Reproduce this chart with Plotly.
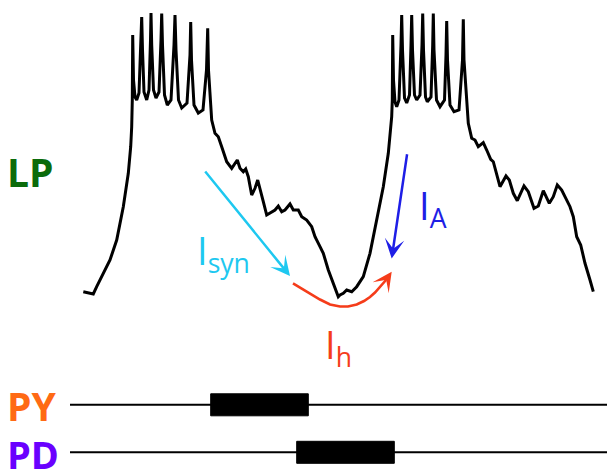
import plotly.graph_objects as go

# ---------------- data (time in a.u., voltage in a.u.; larger value = lower) -------------
LP_time = [
    83.3, 88, 93.3, 96.7, 103.3, 110, 116.7, 123.3, 128.3, 130.7, 131.7,
    132.3, 132.7, 133.5, 135, 136.7, 139, 141, 141.7, 142.5, 144, 146.7, 149, 150.5, 151, 151.7,
    153.5, 156, 159, 161, 161.7, 162.5, 164.5, 167.3, 171, 174, 175, 176, 178.5, 181.7, 187,
    190, 190.7, 191.5, 194, 198.3, 203, 206.5, 207.7, 208.5, 210,
    211.7, 215, 218.3, 221.7, 226.7, 231.7, 235, 237.3, 240, 243.3, 245.7, 248.3, 251.7, 255,
    257.7, 260, 263.3, 266.7, 271.7, 275, 278.3, 281.7, 285, 290, 293.3, 298.3, 301.7, 306.7,
    311.7, 315, 320, 323.3, 328.3, 333.3, 338.3, 340, 343.3, 346.7, 351.7, 356.7, 363.3, 370,
    376.7, 383.3, 388.3, 391.7,
    392.3, 392.7, 393.5, 395, 396.7, 399, 401, 401.7, 402.5, 404.5, 406.7, 409.5, 411, 411.7,
    412.5, 414.5, 416.7, 420, 422, 422.7, 423.5, 425.5, 427.3, 431, 432.7, 433.3, 434, 436.5,
    440, 444.5, 446, 446.7, 447.5, 450, 454, 459, 462.5, 463.3, 464, 466,
    466.7, 468.3, 471.7, 475, 478.3, 483.3, 486.7, 490.7, 493.3, 496.7, 500, 506, 509.3, 513.3,
    517.3, 524, 528.3, 534, 538.3, 543.3, 549.3, 553.3, 557.3, 561.7, 570, 573.3, 576.7, 580.7,
    585, 590, 593.3,
]
LP_voltage = [
    291.7, 293, 294, 286.7, 273.3, 260, 240, 206.7, 173.3, 146.7, 126.7,
    100, 35, 80, 97, 100, 93, 40, 17, 50, 92, 100, 90, 40, 13, 45,
    90, 98, 92, 40, 13.5, 45, 95, 105, 100, 45, 15, 50, 100, 108, 103,
    55, 22, 60, 105, 113, 110, 70, 28.3, 70, 100,
    120, 133.3, 136.7, 146.7, 161.7, 168.3, 163.3, 160, 168.3, 171.7, 169, 176.7, 195, 188.3,
    180, 190, 201.7, 215, 211.7, 210, 206, 211.7, 210, 204, 210, 210, 216.7, 220,
    226.7, 236.7, 246.7, 253.3, 270, 283.3, 296.7, 295, 293.3, 290, 291.7, 286.7, 276.7, 253.3,
    220, 186.7, 153.3, 116.7,
    100, 35, 80, 102, 106.7, 100, 45, 15, 50, 98, 103, 95, 45, 15,
    50, 95, 100, 95, 45, 13.5, 50, 97, 101.7, 97, 45, 13.5, 50, 100,
    106.7, 100, 55, 21, 60, 105, 111.7, 110, 60, 19.3, 60, 95,
    100, 123.3, 138.3, 140, 146.7, 142.7, 150, 159.3, 161.7, 175, 186.7, 176, 180, 193.3,
    200.7, 186, 191.7, 208.3, 206, 190.7, 203.3, 196.7, 185, 190, 206.7, 216.7, 236.7, 245,
    263.3, 280, 291.7,
]

# I_h curved arrow path
Ih_time = [293, 306.7, 320, 330, 340, 348, 356.7, 364, 370, 375, 380, 386]
Ih_voltage = [283.3, 291.7, 299.5, 304.5, 306.5, 306.5, 304.5, 301, 297, 292.5, 287, 280]
Ih_tip = (391.7, 271.7)

# straight current arrows: (tail_t, tail_v, tip_t, tip_v)
Isyn_arrow = (204, 170, 290, 276)
IA_arrow = (407.3, 152.7, 391.7, 258.5)

# burst bars
PY_burst = (210.7, 308.3)
PD_burst = (296.7, 394.3)
PY_level = 404.8
PD_level = 452.3
baseline_start, baseline_end = 70, 607
bar_half = 11

C_LP = "#0b6b0b"
C_PY = "#ff6a14"
C_PD = "#6a00ff"
C_SYN = "#1ec8f0"
C_A = "#1e1ee6"
C_H = "#f53c1a"
FONT = "Open Sans"

fig = go.Figure()

fig.add_trace(go.Scatter(x=LP_time, y=LP_voltage, mode="lines",
                         line=dict(color="black", width=3), hoverinfo="skip"))
fig.add_trace(go.Scatter(x=Ih_time, y=Ih_voltage, mode="lines",
                         line=dict(color=C_H, width=2.6), hoverinfo="skip"))

# baselines and bursts
for lvl, (b0, b1) in ((PY_level, PY_burst), (PD_level, PD_burst)):
    fig.add_shape(type="line", x0=baseline_start, x1=baseline_end, y0=lvl, y1=lvl,
                  xref="x", yref="y", line=dict(color="black", width=2))
    fig.add_shape(type="rect", x0=b0, x1=b1, y0=lvl - bar_half, y1=lvl + bar_half,
                  xref="x", yref="y", line=dict(color="black", width=1), fillcolor="black")

# arrows
def arrow(t0, v0, t1, v1, color):
    fig.add_annotation(x=t1, y=v1, ax=t0, ay=v0, xref="x", yref="y", axref="x", ayref="y",
                       text="", showarrow=True, arrowhead=3, arrowsize=1.3,
                       arrowwidth=2.5, arrowcolor=color, standoff=0)

arrow(*Isyn_arrow, C_SYN)
arrow(*IA_arrow, C_A)
arrow(Ih_time[-1], Ih_voltage[-1], Ih_tip[0], Ih_tip[1], C_H)

# labels
def label(text, x, y, color, size, bold=False):
    fig.add_annotation(x=x, y=y, xref="x", yref="y", text=text, showarrow=False,
                       xanchor="left", yanchor="middle",
                       font=dict(family=FONT, size=size, color=color,
                                 weight="bold" if bold else "normal"))

label("LP", 5, 171, C_LP, 39, True)
label("PY", 5, 405, C_PY, 39, True)
label("PD", 5, 454, C_PD, 38, True)
label("I<sub>syn</sub>", 195, 252.5, C_SYN, 38)
label("I<sub>h</sub>", 323, 346, C_H, 38)
label("I<sub>A</sub>", 417, 207, C_A, 38)

fig.update_xaxes(range=[0, 607], visible=False, fixedrange=True)
fig.update_yaxes(range=[473, 0], visible=False, fixedrange=True)
fig.update_layout(width=607, height=473, margin=dict(l=0, r=0, t=0, b=0),
                  plot_bgcolor="white", paper_bgcolor="white", showlegend=False)

fig.write_html("out.html", config={"displayModeBar": False},
               post_script="document.body.style.margin='0';document.body.style.overflow='hidden';")
